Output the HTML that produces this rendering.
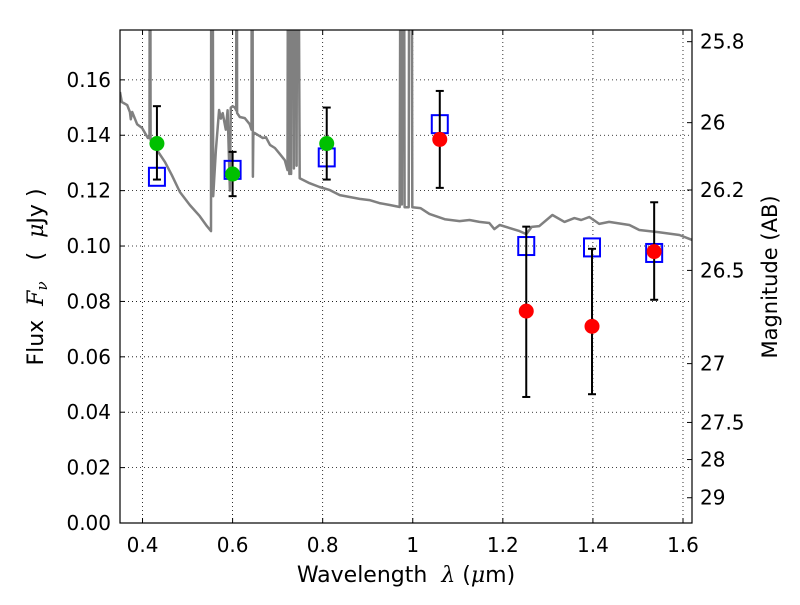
<!DOCTYPE html>
<html><head><meta charset="utf-8"><style>
body{margin:0;background:#fff;}
svg{font-family:"DejaVu Sans","Liberation Sans",sans-serif;}
.pre{white-space:pre;}
</style></head><body>
<svg id="chart" width="800" height="600" xmlns="http://www.w3.org/2000/svg">
<defs><clipPath id="clip"><rect x="120" y="30" width="572" height="493"/></clipPath></defs>
<rect width="800" height="600" fill="#fff"/>
<g id="grid"></g>
<g id="spec" clip-path="url(#clip)"></g>
<g id="marks"></g>
<rect x="120" y="30" width="572" height="493" fill="none" stroke="#000" stroke-width="1.2"/>
<g id="axes" font-size="18" fill="#000"></g>
<text class="pre" x="406" y="582" font-size="22" text-anchor="middle">Wavelength  <tspan font-style="italic" font-family="DejaVu Serif,serif">λ</tspan> (<tspan font-style="italic" font-family="DejaVu Serif,serif">μ</tspan>m)</text>
<text class="pre" transform="translate(43,277) rotate(-90)" font-size="22" text-anchor="middle">Flux  <tspan font-style="italic" font-family="DejaVu Serif,serif">F<tspan font-size="15" dy="4">ν</tspan></tspan><tspan dy="-4">   (  </tspan><tspan font-style="italic" font-family="DejaVu Serif,serif">μ</tspan>Jy )</text>
<text transform="translate(777,277) rotate(-90)" font-size="21" text-anchor="middle">Magnitude (AB)</text>
</svg>
<script>
const xTicks=[0.4,0.6,0.8,1.0,1.2,1.4,1.6];
const xTickLabels=["0.4","0.6","0.8","1","1.2","1.4","1.6"];
const yTicks=[0,0.02,0.04,0.06,0.08,0.1,0.12,0.14,0.16];
const yTickLabels=["0.00","0.02","0.04","0.06","0.08","0.10","0.12","0.14","0.16"];
const magTicks=[25.8,26,26.2,26.5,27,27.5,28,29];
const magTickLabels=["25.8","26","26.2","26.5","27","27.5","28","29"];
const bandWave=[0.432,0.600,0.809,1.060,1.252,1.398,1.536];
const obsFlux=[0.137,0.126,0.137,0.1385,0.0765,0.071,0.098];
const errLow=[0.124,0.118,0.124,0.121,0.0455,0.0465,0.0806];
const errHigh=[0.1505,0.134,0.150,0.156,0.107,0.099,0.1158];
const detected=[true,true,true,false,false,false,false];
const modelFlux=[0.125,0.1275,0.132,0.144,0.100,0.0995,0.0975];
const specWave=[0.350,0.354,0.366,0.372,0.374,0.377,0.388,0.399,0.412,0.4155,0.4165,0.418,0.432,0.450,0.465,0.483,0.505,0.527,0.543,0.550,0.552,0.553,0.555,0.557,0.563,0.570,0.574,0.578,0.585,0.589,0.594,0.596,0.600,0.605,0.608,0.609,0.610,0.616,0.627,0.638,0.642,0.643,0.645,0.646,0.649,0.660,0.667,0.674,0.683,0.694,0.705,0.716,0.722,0.724,0.726,0.728,0.730,0.732,0.734,0.736,0.738,0.740,0.742,0.744,0.749,0.771,0.793,0.816,0.838,0.860,0.882,0.904,0.926,0.949,0.971,0.974,0.976,0.978,0.980,0.982,0.984,0.991,0.993,0.997,0.999,1.017,1.037,1.071,1.104,1.126,1.148,1.170,1.181,1.193,1.237,1.252,1.264,1.281,1.310,1.337,1.359,1.374,1.392,1.414,1.436,1.481,1.503,1.547,1.592,1.620];
const specFlux=[0.1556,0.152,0.1509,0.1484,0.1458,0.1484,0.144,0.1426,0.139,0.139,0.3,0.1383,0.1347,0.1303,0.1256,0.1195,0.1148,0.1108,0.1072,0.1058,0.1054,0.3,0.3,0.118,0.1347,0.1491,0.146,0.148,0.142,0.149,0.120,0.150,0.1505,0.150,0.149,0.3,0.148,0.1466,0.1462,0.144,0.142,0.3,0.125,0.140,0.1408,0.1397,0.139,0.1393,0.1365,0.1354,0.1332,0.131,0.1274,0.3,0.126,0.3,0.126,0.3,0.3,0.128,0.3,0.3,0.129,0.3,0.1245,0.1227,0.1213,0.1202,0.1184,0.1177,0.117,0.1166,0.1155,0.1148,0.1141,0.3,0.115,0.3,0.3,0.114,0.114,0.114,0.3,0.3,0.114,0.1137,0.1116,0.1097,0.109,0.1094,0.1087,0.1083,0.1061,0.1076,0.1054,0.1043,0.1069,0.1072,0.1112,0.1087,0.1101,0.1094,0.1105,0.108,0.1087,0.1076,0.1058,0.105,0.104,0.1022];
const X0=120,X1=692,Y0=523,Y1=30,XMIN=0.35,XMAX=1.62,YMIN=0,YMAX=0.178;
const sx=v=>X0+(v-XMIN)/(XMAX-XMIN)*(X1-X0);
const sy=v=>Y0-(v-YMIN)/(YMAX-YMIN)*(Y0-Y1);
const magToFlux=m=>Math.pow(10,(23.9-m)/2.5);
const NS="http://www.w3.org/2000/svg";
function mk(tag,attrs,parent){const e=document.createElementNS(NS,tag);for(const k in attrs)e.setAttribute(k,attrs[k]);parent.appendChild(e);return e;}
const grid=document.getElementById('grid'),axes=document.getElementById('axes'),spec=document.getElementById('spec'),marks=document.getElementById('marks');
xTicks.forEach((t,i)=>{const x=sx(t);
 let g=mk('line',{x1:x,x2:x,y1:Y1,y2:Y0,stroke:'#000','stroke-width':0.8,'stroke-dasharray':'1,3'},grid);
 
 
 let tk=mk('line',{x1:x,x2:x,y1:Y0,y2:Y0-5,stroke:'#000'},axes);
 
 
 let tk2=mk('line',{x1:x,x2:x,y1:Y1,y2:Y1+5,stroke:'#000'},axes);
 
 
 let l=mk('text',{x:x,y:552,'text-anchor':'middle','font-size':20},axes);l.textContent=xTickLabels[i];
 
 
});
yTicks.forEach((t,i)=>{const y=sy(t);
 let g=mk('line',{x1:X0,x2:X1,y1:y,y2:y,stroke:'#000','stroke-width':0.8,'stroke-dasharray':'1,3'},grid);
 
 
 let tk=mk('line',{x1:X0,x2:X0+5,y1:y,y2:y,stroke:'#000'},axes);
 
 
 let l=mk('text',{x:111,y:y+7,'text-anchor':'end','font-size':20},axes);l.textContent=yTickLabels[i];
 
 
});
magTicks.forEach((m,i)=>{const y=sy(magToFlux(m));
 let tk=mk('line',{x1:X1-5,x2:X1,y1:y,y2:y,stroke:'#000'},axes);
 
 
 let l=mk('text',{x:700,y:y+7,'text-anchor':'start','font-size':20},axes);l.textContent=magTickLabels[i];
 
 
});
let pts=specWave.map((w,i)=>sx(w).toFixed(1)+','+sy(specFlux[i]).toFixed(1)).join(' ');
let pl=mk('polyline',{points:pts,fill:'none',stroke:'#808080','stroke-width':2.5,'stroke-linejoin':'round'},spec);


bandWave.forEach((w,i)=>{const x=sx(w);
 let s=mk('rect',{x:x-8,y:sy(modelFlux[i])-9,width:16,height:18,fill:'none',stroke:'#0000ff','stroke-width':2},marks);
 
 
 let e=mk('g',{stroke:'#000','stroke-width':2},marks);
 
 
 mk('line',{x1:x,x2:x,y1:sy(errLow[i]),y2:sy(errHigh[i])},e);
 mk('line',{x1:x-4,x2:x+4,y1:sy(errLow[i]),y2:sy(errLow[i])},e);
 mk('line',{x1:x-4,x2:x+4,y1:sy(errHigh[i]),y2:sy(errHigh[i])},e);
 let c=mk('circle',{cx:x,cy:sy(obsFlux[i]),r:7.5,fill:detected[i]?'#00c000':'#ff0000'},marks);
 
 
});
</script>
</body></html>
